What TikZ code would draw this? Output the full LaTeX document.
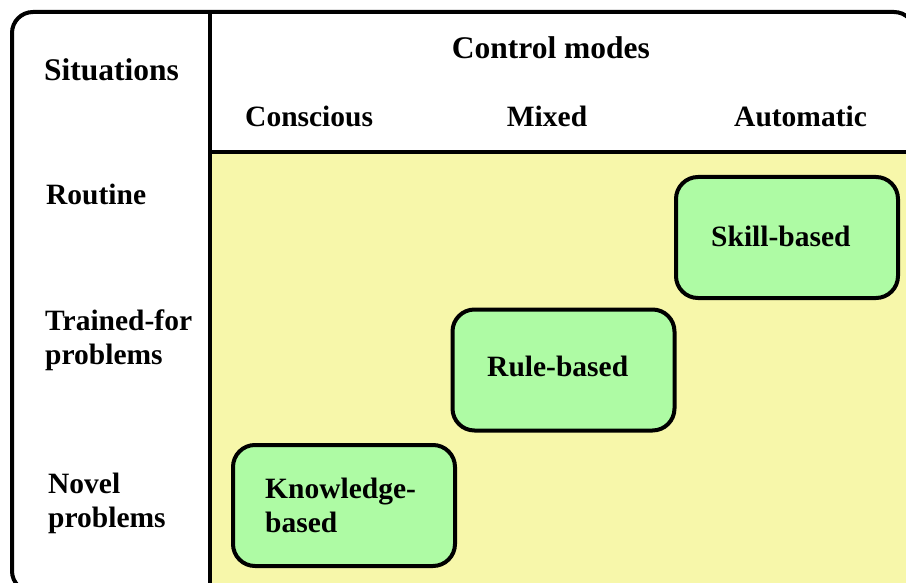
\documentclass[tikz,border=0pt]{standalone}
\usepackage{fontspec}
\setmainfont{Liberation Serif}
\begin{document}
\begin{tikzpicture}[x=1pt,y=-1pt,
  frame/.style={line width=4pt},
  modebox/.style={draw, line width=4pt, rounded corners=22pt, fill=boxgreen,
                  minimum width=222pt, minimum height=121pt, inner sep=0pt},
  head/.style={font=\fontsize{31.5}{34}\selectfont\bfseries, inner sep=0pt},
  lbl/.style={font=\fontsize{29.5}{34}\selectfont\bfseries, inner sep=0pt, align=left},
]
\definecolor{paleyellow}{RGB}{247,247,170}
\definecolor{boxgreen}{RGB}{174,251,164}
\useasboundingbox (0,0) rectangle (906,583);

% yellow area of the table, clipped to the outer rounded frame
\begin{scope}
  \clip[rounded corners=21pt] (12,12) rectangle (915,592);
  \fill[paleyellow] (210,152) rectangle (920,600);
\end{scope}

% outer frame and dividing rules
\draw[frame, rounded corners=21pt] (12,12) rectangle (915,592);
\draw[frame] (210,12) -- (210,592);
\draw[frame] (210,152) -- (915,152);

% column and row headings
\node[head, anchor=base west] (sit) at (44,81) {Situations};
\node[head, anchor=base] (ctl) at (551,59) {Control modes};
\node[lbl, anchor=base west] (con) at (245,127) {Conscious};
\node[lbl, anchor=base] (mix) at (547,127) {Mixed};
\node[lbl, anchor=base west] (aut) at (734,127) {Automatic};

% multi-line labels are anchored at the baseline of their last line
\node[lbl, anchor=base west] (rou) at (46,205) {Routine};
\node[lbl, anchor=base west] (tra) at (45,364) {Trained-for\\problems};
\node[lbl, anchor=base west] (nov) at (48,527) {Novel\\problems};

% behaviour levels
\node[modebox] (skill) at (787,237.5) {};
\node[lbl, anchor=base west] (skilltxt) at (711,247) {Skill-based};

\node[modebox] (rule) at (563.5,370) {};
\node[lbl, anchor=base west] (ruletxt) at (487,376) {Rule-based};

\node[modebox] (know) at (344,505.5) {};
\node[lbl, anchor=base west] (knowtxt) at (265,532) {Knowledge-\\based};
\end{tikzpicture}
\end{document}
